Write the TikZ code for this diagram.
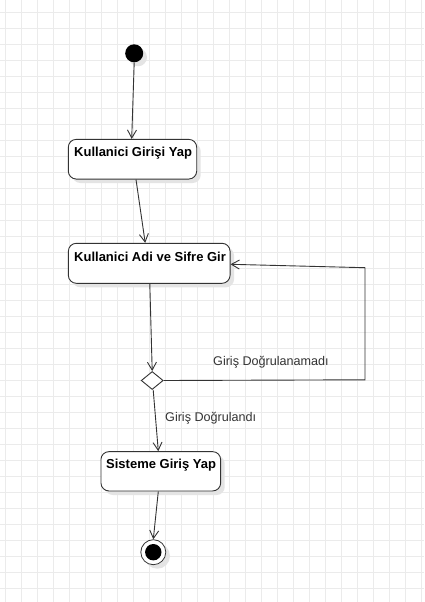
\documentclass[tikz,border=0pt]{standalone}
\usepackage{fontspec}
\setmainfont{Liberation Sans}
\usetikzlibrary{arrows.meta,calc,shapes.geometric}
\definecolor{gridc}{HTML}{EBEBEB}
\definecolor{linec}{HTML}{333333}
\definecolor{shadowc}{HTML}{E4E4E4}
\tikzset{
  actbox/.style={draw=linec, line width=0.9pt, rounded corners=8pt, fill=white, inner sep=0pt,
    minimum width=#1, minimum height=40pt},
  boxtext/.style={font=\fontsize{13}{15}\selectfont\bfseries, inner sep=0pt, anchor=west, text=black},
  lbl/.style={font=\fontsize{12.6}{15}\selectfont, inner sep=0pt, anchor=west, text=linec},
  flow/.style={draw=linec, line width=0.9pt, -{Straight Barb[length=8pt,width=9pt,line width=0.9pt]}},
  startdot/.style={circle, fill=black, minimum size=18pt, inner sep=0pt},
  enddot/.style={circle, draw=linec, fill=white, line width=0.8pt, minimum size=25pt, inner sep=0pt},
  dec/.style={diamond, draw=linec, fill=white, line width=0.9pt, minimum width=22pt, minimum height=18pt, inner sep=0pt, aspect=1.2},
}
\begin{document}
\begin{tikzpicture}[x=1pt,y=-1pt]
\useasboundingbox (0,0) rectangle (424,602);
\fill[white] (0,0) rectangle (424,602);
% grid
\foreach \i in {0,...,26} {\draw[gridc, line width=0.8pt] ({5.7+16*\i},0) -- ({5.7+16*\i},602);}
\foreach \j in {0,...,37} {\draw[gridc, line width=0.8pt] (0,{12.3+16*\j}) -- (424,{12.3+16*\j});}
% shadows
\fill[shadowc] (138,57.3) circle (9pt);
\fill[shadowc, rounded corners=8pt] (72.3,143.3) rectangle (200.7,183);
\fill[shadowc, rounded corners=8pt] (72.3,247.3) rectangle (234,287.3);
\fill[shadowc, rounded corners=8pt] (105,455.7) rectangle (224.7,495);
\fill[shadowc] (157.3,556) circle (12.7pt);
% nodes
\node[startdot] (init) at (134.2,53.3) {};
\node[actbox=128.4pt, minimum height=39.7pt] (b1) at (132.5,159.2) {};
\node[boxtext] (t1) at (74,153.3) {Kullanici Girişi Yap};
\node[actbox=161.7pt] (b2) at (149.2,263.3) {};
\node[boxtext] (t2) at (74,256.9) {Kullanici Adi ve Sifre Gir};
\node[dec] (d) at (152.2,380.5) {};
\node[actbox=119.7pt, minimum height=39.3pt] (b3) at (160.8,471.3) {};
\node[boxtext] (t3) at (106,465.3) {Sisteme Giriş Yap};
\node[enddot] (fin) at (153.3,552.2) {};
\fill[black] (fin.center) circle (8.2pt);
% labels
\node[lbl] (l1) at (213,361.7) {Giriş Doğrulanamadı};
\node[lbl] (l2) at (165,418.3) {Giriş Doğrulandı};
% connectors
\coordinate (c1) at (365,379.8);
\coordinate (c2) at (365,267.7);
\draw[flow] (init.south) -- ([xshift=-0.8pt]b1.north);
\draw[flow] ([xshift=3.5pt]b1.south) -- ([xshift=-4pt]b2.north);
\draw[flow] ([xshift=0.6pt]b2.south) -- (d.north);
\draw[flow] ([xshift=1pt]d.south) -- ([xshift=-2.5pt]b3.north);
\draw[flow] ([xshift=-2.5pt]b3.south) -- (fin.north);
\draw[flow] (d.east) -- (c1) -- (c2) -- ([yshift=-1pt]b2.east);
\end{tikzpicture}
\end{document}
